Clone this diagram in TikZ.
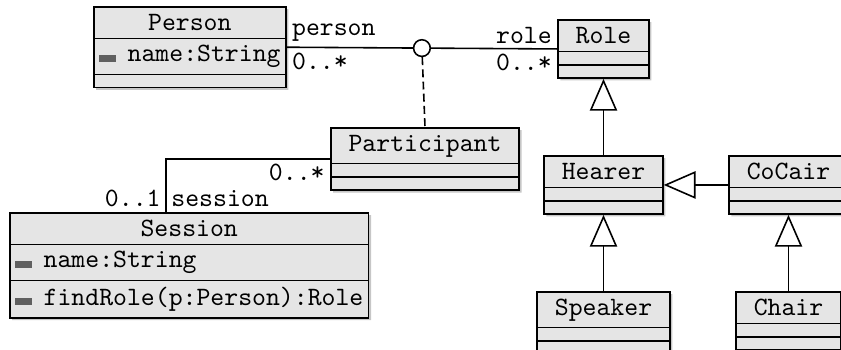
\documentclass[tikz,border=0pt]{standalone}
\usepackage{tikz}
\usetikzlibrary{shapes.multipart, shadows, arrows.meta, calc}

\newcommand{\privattr}{{\color{gray!75!black}\rule{6.3pt}{2.6pt}}\hspace{4.5pt}}
\newcommand{\titlestrut}{\rule[-0.7pt]{0pt}{7pt}}
\newcommand{\attrstrut}{\rule[-2pt]{0pt}{7.8pt}}
\newcommand{\emptypart}{\rule{0pt}{0.01pt}}

\tikzset{
  umlclass/.style={draw, fill=gray!20, line width=0.6pt, font=\ttfamily,
    rectangle split, rectangle split parts=3,
    rectangle split part align={center,left,left},
    inner xsep=2pt, inner ysep=2.2pt,
    drop shadow={shadow xshift=0.9pt, shadow yshift=-0.9pt, opacity=0.45}},
  plainclass/.style={umlclass, inner xsep=6.7pt},
  isa/.style={-{Triangle[open, length=12pt, width=10.3pt]}},
  mult/.style={font=\ttfamily, inner sep=1.75pt}
}

\begin{document}
\begin{tikzpicture}[x=0.3777pt, y=-0.3777pt, line width=0.6pt]
    \useasboundingbox (0,0) rectangle (841,349);

    % classes
    \node[umlclass, anchor=north west] (person) at (93,6)
      {\titlestrut Person
       \nodepart{two}\attrstrut\privattr name:String\hspace{2.8pt}
       \nodepart{three}\emptypart};
    \node[plainclass, anchor=north] (role) at (603.5,19)
      {\titlestrut Role \nodepart{two}\emptypart \nodepart{three}\emptypart};
    \node[plainclass, anchor=north] (participant) at (425,127)
      {\titlestrut Participant \nodepart{two}\emptypart \nodepart{three}\emptypart};
    \node[umlclass, anchor=north west] (session) at (9,212)
      {\titlestrut Session
       \nodepart{two}\attrstrut\privattr name:String
       \nodepart{three}\attrstrut\privattr findRole(p:Person):Role\hspace{2.8pt}};
    \node[plainclass, anchor=north] (hearer) at (603.5,155)
      {\titlestrut Hearer \nodepart{two}\emptypart \nodepart{three}\emptypart};
    \node[plainclass, anchor=north] (cocair) at (788.5,155)
      {\titlestrut CoCair \nodepart{two}\emptypart \nodepart{three}\emptypart};
    \node[plainclass, anchor=north] (speaker) at (603.5,291)
      {\titlestrut Speaker \nodepart{two}\emptypart \nodepart{three}\emptypart};
    \node[plainclass, anchor=north] (chair) at (788.5,291)
      {\titlestrut Chair \nodepart{two}\emptypart \nodepart{three}\emptypart};

    % association class
    \node[draw, circle, fill=white, inner sep=0pt, minimum size=6.3pt] (assoc)
      at ($(person.east)!0.5!(role.west)$) {};
    \draw (person.east) node[above right, mult] {person} node[below right, mult] {0..*}
      -- (assoc);
    \draw (assoc) -- (role.west) node[above left, mult] {role} node[below left, mult] {0..*};
    \draw[dash pattern=on 3pt off 1.6pt] (assoc) -- (participant.north);

    \draw (participant.west) node[below left, mult] {0..*}
      -| ($(session.north west)+(157,0)$) node[above left, mult] {0..1}
      node[above right, mult] {session};

    % generalisation
    \draw[isa] (hearer.north) -- (role.south);
    \draw[isa] (cocair.west) -- (hearer.east);
    \draw[isa] (speaker.north) -- (hearer.south);
    \draw[isa] (chair.north) -- (cocair.south);
\end{tikzpicture}
\end{document}
